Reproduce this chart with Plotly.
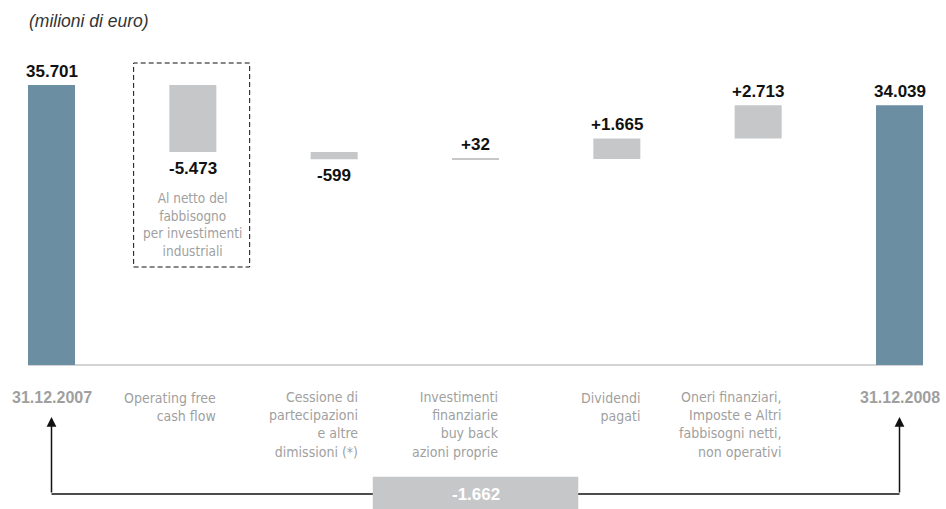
import numpy as np
import plotly.graph_objects as go

# ---- data (milioni di euro) ----
categories = [
    "31.12.2007",
    "Operating free cash flow",
    "Cessione di partecipazioni e altre dimissioni (*)",
    "Investimenti finanziarie buy back azioni proprie",
    "Dividendi pagati",
    "Oneri finanziari, Imposte e Altri fabbisogni netti, non operativi",
    "31.12.2008",
]
label_lines = [
    ["31.12.2007"],
    ["Operating free", "cash flow"],
    ["Cessione di", "partecipazioni", "e altre", "dimissioni (*)"],
    ["Investimenti", "finanziarie", "buy back", "azioni proprie"],
    ["Dividendi", "pagati"],
    ["Oneri finanziari,", "Imposte e Altri", "fabbisogni netti,", "non operativi"],
    ["31.12.2008"],
]
opening_debt = 35701
changes = [-5473, -599, 32, 1665, 2713]
closing_debt = 34039
box_note = ["Al netto del", "fabbisogno", "per investimenti", "industriali"]
unit_label = "(milioni di euro)"

# ---- waterfall geometry derived from the data ----
changes = np.array(changes)
levels = opening_debt + np.cumsum(changes)
prev_levels = np.concatenate([[opening_debt], levels[:-1]])
bar_y = np.concatenate([[opening_debt], changes, [closing_debt]])
bar_base = np.concatenate([[0], prev_levels, [0]])
is_total = [True] + [False] * len(changes) + [True]
x_pos = np.arange(len(categories))
net_change = closing_debt - opening_debt


def fmt(v, signed):
    s = f"{abs(int(v)):,}".replace(",", ".")
    if v < 0:
        return "-" + s
    return ("+" + s) if signed else s


# ---- styling ----
BLUE = "#6b8ea3"
GREY_BAR = "#c6c7c9"
GREY_TXT = "#9f9f9f"
COND = "DejaVu Sans Condensed, Liberation Sans Narrow, Arial Narrow, sans-serif"
SANS = "Liberation Sans, Arial, sans-serif"
CAT_SIZE = 14
NOTE_SIZE = 13.5

W, H = 946, 509
PLOT_H = 365            # plot area height in px (baseline at the bottom)
BAR_W = 0.3326
X_RANGE = [-0.3644, 6.329]
Y_RANGE = [12825, 42646]


def py(px):
    """pixel row -> paper y"""
    return (PLOT_H - px) / PLOT_H


colors = [BLUE if t else GREY_BAR for t in is_total]

fig = go.Figure()
fig.add_trace(go.Bar(
    x=x_pos, y=bar_y, base=bar_base, width=BAR_W,
    marker=dict(color=colors, line=dict(width=0)),
    hoverinfo="skip", showlegend=False,
))

annotations = []
shapes = []

# value labels on each bar
for i in range(len(categories)):
    lo = min(bar_base[i], bar_base[i] + bar_y[i])
    hi = max(bar_base[i], bar_base[i] + bar_y[i])
    txt = "<b>" + fmt(bar_y[i], signed=not is_total[i]) + "</b>"
    up = bar_y[i] >= 0
    annotations.append(dict(x=x_pos[i], y=hi if up else lo, xref="x", yref="y", text=txt,
                            showarrow=False, yanchor="middle", yshift=14 if up else -16.5,
                            font=dict(family=SANS, size=17, color="#111111")))

# category labels under the baseline
for i, lines in enumerate(label_lines):
    if is_total[i]:
        annotations.append(dict(x=x_pos[i], y=0, xref="x", yref="paper",
                                text="<b>" + lines[0] + "</b>",
                                showarrow=False, xanchor="center", yanchor="middle",
                                yshift=-32.5, font=dict(family=SANS, size=16, color=GREY_TXT)))
    else:
        n = len(lines)
        annotations.append(dict(x=x_pos[i] + BAR_W / 2, y=0, xref="x", yref="paper",
                                text="<br>".join(lines), align="right",
                                showarrow=False, xanchor="right", yanchor="middle",
                                xshift=2, yshift=-32.5 - (n - 1) * 1.3 * CAT_SIZE / 2,
                                font=dict(family=COND, size=CAT_SIZE, color=GREY_TXT)))

# note inside the dashed frame around the operating free cash flow
annotations.append(dict(x=x_pos[1], y=py(224.5), xref="x", yref="paper",
                        text="<br>".join(box_note), align="center",
                        showarrow=False, xanchor="center", yanchor="middle",
                        font=dict(family=COND, size=NOTE_SIZE, color=GREY_TXT)))
shapes.append(dict(type="rect", xref="x", yref="paper", x0=x_pos[1] - 0.419, x1=x_pos[1] + 0.402,
                   y0=py(267), y1=py(63), line=dict(color="#111111", width=1, dash="5px,3px"),
                   fillcolor="rgba(0,0,0,0)"))

# baseline
shapes.append(dict(type="line", xref="x", yref="paper", x0=x_pos[0] - BAR_W / 2,
                   x1=x_pos[-1] + BAR_W / 2, y0=0, y1=0, layer="below",
                   line=dict(color="#c4c4c4", width=1.5)))

# bracket linking opening and closing totals
shapes.append(dict(type="line", xref="x", yref="paper", x0=x_pos[0], x1=x_pos[-1],
                   y0=py(494), y1=py(494), line=dict(color="#111111", width=1.5)))
for xi in (x_pos[0], x_pos[-1]):
    annotations.append(dict(x=xi, y=py(417), xref="x", yref="paper", text="",
                            showarrow=True, ax=0, ay=494 - 417, arrowhead=2, arrowsize=1.3,
                            arrowwidth=1.5, arrowcolor="#111111", standoff=0))
mid = (x_pos[0] + x_pos[-1]) / 2
shapes.append(dict(type="rect", xref="x", yref="paper", x0=mid - 0.727, x1=mid + 0.727,
                   y0=py(512), y1=py(476.7), fillcolor=GREY_BAR, line=dict(width=0)))
annotations.append(dict(x=mid, y=py(494.5), xref="x", yref="paper",
                        text=f"<b>{fmt(net_change, False)}</b>",
                        showarrow=False, yanchor="middle",
                        font=dict(family=SANS, size=17, color="white")))

# unit caption
annotations.append(dict(x=27 / W, y=py(21), xref="paper", yref="paper", text=f"<i>{unit_label}</i>",
                        showarrow=False, xanchor="left", yanchor="middle",
                        font=dict(family=SANS, size=17.5, color="#333333")))

fig.update_layout(
    width=W, height=H,
    margin=dict(l=0, r=0, t=0, b=H - PLOT_H),
    paper_bgcolor="white", plot_bgcolor="white",
    xaxis=dict(range=X_RANGE, visible=False, fixedrange=True),
    yaxis=dict(range=Y_RANGE, visible=False, fixedrange=True),
    annotations=annotations, shapes=shapes,
    showlegend=False,
)

fig.write_html("out.html")
